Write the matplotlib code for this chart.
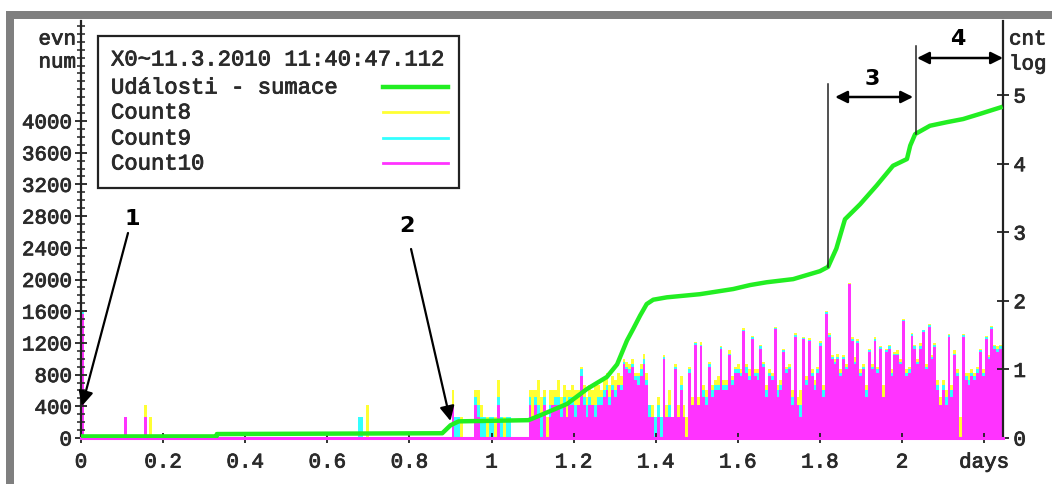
import numpy as np
import matplotlib
matplotlib.use("Agg")
import matplotlib.pyplot as plt
import matplotlib.patheffects as pe
from matplotlib.ticker import FixedLocator
from matplotlib.patches import Rectangle
from matplotlib.lines import Line2D

FONT = ["Liberation Mono", "DejaVu Sans Mono"]
plt.rcParams['font.family'] = FONT

# ---------------- data ----------------
# cumulative events ("Události - sumace"), left axis
green_x = [0, 0.33, 0.331, 0.88, 0.9, 0.92, 1.09, 1.125, 1.184, 1.233, 1.281,
           1.306, 1.33, 1.345, 1.362, 1.378, 1.394, 1.427, 1.508, 1.589, 1.63,
           1.67, 1.735, 1.8, 1.82, 1.84, 1.861, 1.898, 1.938, 1.978, 2.012,
           2.02, 2.032, 2.068, 2.109, 2.149, 2.19, 2.245]
green_y = [20, 20, 50, 60, 160, 210, 225, 300, 430, 620, 770, 930, 1230, 1375,
           1545, 1690, 1745, 1775, 1815, 1880, 1930, 1965, 2005, 2105, 2160,
           2390, 2760, 2950, 3185, 3435, 3520, 3690, 3835, 3940, 3985, 4025,
           4090, 4180]

bin_width = 1 / 144          # 10-minute bins (days)

# sparse early bins (bin index, counts)
early_bin = [0, 15, 22, 24, 97, 98, 100]
early_c10 = [65, 2, 2, 0, 0, 0, 0]
early_c9 = [3, 0, 0, 0, 2, 2, 0]
early_c8 = [3, 0, 1, 2, 0, 0, 3]

# continuous bins starting at bin index 129
main_start = 129
c10 = [0, 3, 0, 0, 0, 0, 0, 0, 0, 3, 2, 0, 0, 0, 0,
       0, 0, 3, 0, 0, 0, 0, 0, 0, 0, 0, 0, 0, 3, 2,
       3, 2, 0, 3, 0, 2, 3, 3, 3, 2, 3, 2, 3, 3, 2,
       3, 8, 3, 2, 3, 3, 2, 3, 3, 4, 5, 3, 5, 4, 6,
       5, 12, 10, 9, 11, 7, 6, 8, 12, 6, 2, 2, 0, 2, 0,
       14, 2, 2, 2, 10, 2, 5, 2, 0, 9, 3, 23, 3, 22, 4,
       3, 11, 4, 5, 5, 20, 5, 5, 16, 6, 9, 9, 8, 36, 9,
       7, 28, 8, 7, 20, 11, 4, 8, 7, 39, 4, 5, 18, 9, 10,
       3, 30, 3, 2, 28, 6, 26, 8, 5, 9, 22, 4, 65, 30, 14,
       12, 14, 8, 14, 10, 175, 26, 12, 24, 8, 10, 4, 18, 10, 26,
       9, 20, 4, 18, 20, 8, 16, 16, 12, 50, 8, 9, 31, 20, 12,
       20, 35, 10, 42, 14, 21, 5, 3, 5, 3, 30, 4, 16, 8, 0,
       30, 7, 6, 8, 7, 9, 18, 8, 28, 14, 39, 20, 18, 20, 5]
c9 = [0, 0, 2, 2, 0, 0, 0, 0, 0, 1, 1, 2, 2, 0, 2,
      2, 1, 1, 2, 0, 2, 2, 0, 0, 0, 0, 0, 0, 1, 0,
      1, 1, 2, 1, 0, 1, 0, 1, 1, 1, 1, 0, 1, 1, 1,
      0, 2, 1, 1, 1, 0, 1, 1, 1, 1, 1, 1, 1, 1, 0,
      1, 1, 1, 1, 1, 1, 2, 2, 2, 1, 1, 0, 2, 1, 2,
      1, 0, 1, 0, 1, 0, 1, 0, 0, 1, 0, 1, 0, 1, 1,
      1, 1, 1, 1, 1, 1, 1, 1, 1, 1, 1, 1, 1, 2, 2,
      1, 2, 1, 2, 2, 1, 1, 1, 1, 1, 1, 1, 1, 1, 1,
      1, 2, 0, 1, 1, 1, 1, 1, 1, 1, 2, 1, 3, 2, 1,
      1, 1, 1, 1, 1, 3, 2, 1, 2, 1, 1, 1, 1, 1, 2,
      1, 1, 0, 1, 2, 1, 1, 1, 1, 2, 1, 1, 2, 2, 1,
      2, 2, 1, 2, 1, 2, 1, 0, 1, 1, 2, 1, 1, 1, 0,
      2, 1, 1, 1, 1, 1, 1, 1, 2, 1, 2, 2, 2, 2, 1]
c8 = [0, 2, 0, 0, 2, 0, 0, 0, 0, 1, 2, 1, 0, 2, 0,
      0, 1, 3, 0, 2, 0, 0, 0, 0, 0, 0, 0, 0, 1, 3,
      1, 4, 2, 1, 2, 2, 2, 1, 3, 1, 2, 3, 1, 2, 2,
      2, 1, 2, 1, 2, 2, 3, 2, 1, 2, 3, 2, 2, 2, 3,
      2, 1, 2, 2, 2, 1, 1, 2, 3, 2, 0, 1, 0, 1, 0,
      1, 1, 2, 0, 1, 1, 2, 1, 2, 1, 1, 1, 1, 2, 1,
      1, 1, 1, 1, 2, 1, 1, 1, 2, 1, 1, 2, 1, 2, 1,
      2, 1, 1, 1, 1, 1, 1, 1, 1, 2, 1, 1, 1, 1, 1,
      1, 2, 1, 2, 1, 1, 2, 1, 1, 1, 2, 1, 3, 2, 1,
      1, 2, 1, 1, 1, 3, 2, 2, 2, 1, 1, 1, 1, 1, 2,
      1, 1, 2, 1, 1, 1, 1, 2, 1, 2, 1, 1, 1, 1, 1,
      2, 1, 1, 2, 1, 1, 1, 1, 1, 1, 1, 1, 2, 1, 2,
      1, 1, 2, 1, 1, 1, 1, 1, 1, 1, 2, 1, 2, 1, 2]

legend_title = "X0~11.3.2010 11:40:47.112"
series_names = ["Události - sumace", "Count8", "Count9", "Count10"]
series_colors = ["#22ee22", "#ffff33", "#33ffff", "#ff33ff"]

left_ticks = list(range(0, 4001, 400))
right_ticks = [0, 1, 2, 3, 4, 5]
x_ticks = [0, 0.2, 0.4, 0.6, 0.8, 1.0, 1.2, 1.4, 1.6, 1.8, 2.0, 2.2]
x_tick_labels = ["0", "0.2", "0.4", "0.6", "0.8", "1", "1.2", "1.4", "1.6",
                 "1.8", "2", "days"]

# ---------------- figure ----------------
W, H = 1052, 485
fig = plt.figure(figsize=(W / 100, H / 100), dpi=100)
fig.patch.set_facecolor("white")


def fx(px):
    return px / W


def fy(py):
    return 1 - py / H


tick_color = "#2a2a2a"
thick = [pe.withStroke(linewidth=0.6, foreground=tick_color)]
fs = 15
fs_leg = 16

# gray frame
fig.add_artist(Rectangle((fx(6), fy(20)), fx(1052) - fx(6), fy(12) - fy(20),
                         transform=fig.transFigure, color="#7f7f7f", lw=0))
fig.add_artist(Rectangle((fx(6), fy(485)), fx(14) - fx(6), fy(12) - fy(485),
                         transform=fig.transFigure, color="#7f7f7f", lw=0))

L, R, T, B = 81, 1003, 22, 439
ax2 = fig.add_axes([fx(L), fy(B), fx(R) - fx(L), fy(T) - fy(B)])
ax = ax2.twinx()
ax.set_zorder(ax2.get_zorder() + 1)
ax.patch.set_visible(False)
ax.xaxis.set_visible(True)
ax.yaxis.tick_left()
ax2.yaxis.tick_right()

# bars (log10 of stacked counts, right axis)
bins = np.concatenate([np.array(early_bin), main_start + np.arange(len(c10))])
n10 = np.concatenate([early_c10, c10]).astype(float)
n9 = np.concatenate([early_c9, c9]).astype(float)
n8 = np.concatenate([early_c8, c8]).astype(float)
h10 = np.log10(np.maximum(n10, 1))
h9 = np.log10(np.maximum(n10 + n9, 1))
h8 = np.log10(np.maximum(n10 + n9 + n8, 1))
xb = bins * bin_width
ax2.bar(xb, h8, width=bin_width, align="edge", color=series_colors[1], lw=0)
ax2.bar(xb, h9, width=bin_width, align="edge", color=series_colors[2], lw=0)
ax2.bar(xb, h10, width=bin_width, align="edge", color=series_colors[3], lw=0)

# green cumulative line (left axis)
ax.plot(green_x, green_y, color=series_colors[0], lw=3.2, solid_capstyle="butt",
        zorder=5)

ax.set_xlim(0, 2.246)
ax2.set_xlim(0, 2.246)
ax.set_ylim(0, 5262)
ax2.set_ylim(0, 6.08)

for a in (ax, ax2):
    a.spines["top"].set_visible(False)
ax.spines["right"].set_visible(False)
ax2.spines["left"].set_visible(False)
ax.spines["left"].set_color("#222222")
ax.spines["left"].set_linewidth(1.6)
ax2.spines["right"].set_color("#222222")
ax2.spines["right"].set_linewidth(1.6)
ax.spines["bottom"].set_color(series_colors[3])
ax.spines["bottom"].set_linewidth(2.2)
ax2.spines["bottom"].set_visible(False)

ax.yaxis.set_major_locator(FixedLocator(left_ticks))
ax.yaxis.set_minor_locator(FixedLocator(list(range(0, 5201, 100))))
ax.tick_params(axis="y", which="major", direction="inout", length=9, width=1.3,
               color="#222222", labelsize=fs, labelcolor=tick_color, pad=2)
ax.tick_params(axis="y", which="minor", direction="inout", length=6, width=1.1,
               color="#222222")

ax2.yaxis.set_major_locator(FixedLocator(right_ticks))
ax2.tick_params(axis="y", which="major", direction="inout", length=9, width=1.3,
                color="#222222", labelsize=fs, labelcolor=tick_color, pad=3)

ax.set_xticks(x_ticks)
ax.set_xticklabels(x_tick_labels)
ax.tick_params(axis="x", direction="inout", length=7, width=1.3, color="#222222",
               labelsize=fs, labelcolor=tick_color, pad=7)
ax2.tick_params(axis="x", bottom=False, labelbottom=False)

for lab in (ax.get_xticklabels() + ax.get_yticklabels()
            + ax2.get_yticklabels()):
    lab.set_path_effects(thick)

# axis captions
for txt, py in (("evn", 40), ("num", 63)):
    fig.text(fx(76), fy(py), txt, ha="right", va="center", fontsize=fs,
             color=tick_color, path_effects=thick)
for txt, py in (("cnt", 40), ("log", 65)):
    fig.text(fx(1009), fy(py), txt, ha="left", va="center", fontsize=fs,
             color=tick_color, path_effects=thick)

# legend box (drawn manually)
fig.add_artist(Rectangle((fx(98), fy(189)), fx(459) - fx(98), fy(37) - fy(189),
                         transform=fig.transFigure, fill=False, ec="#222222",
                         lw=1.6))
fig.text(fx(111), fy(61), legend_title, ha="left", va="center", fontsize=fs_leg,
         color=tick_color, path_effects=thick)
rows = [89, 114, 140, 165]
lws = [3.2, 2, 2, 2]
for name, col, py, lw in zip(series_names, series_colors, rows, lws):
    fig.text(fx(111), fy(py), name, ha="left", va="center", fontsize=fs_leg,
             color=tick_color, path_effects=thick)
    fig.add_artist(Line2D([fx(383), fx(448)], [fy(py - 1), fy(py - 1)],
                          transform=fig.transFigure, color=col, lw=lw))

# annotations (data coordinates of left axis)
ann_font = dict(family=["DejaVu Sans"], weight="bold", size=16, color="black")
ax.annotate("", xy=(0.0024, 404), xytext=(0.1145, 2587),
            arrowprops=dict(arrowstyle="-|>", lw=1.6, color="black",
                            mutation_scale=22, shrinkA=0, shrinkB=0),
            annotation_clip=False)
ax.text(0.124, 2776, "1", ha="center", va="center", **ann_font)
ax.annotate("", xy=(0.900, 215), xytext=(0.804, 2385),
            arrowprops=dict(arrowstyle="-|>", lw=1.6, color="black",
                            mutation_scale=22, shrinkA=0, shrinkB=0),
            annotation_clip=False)
ax.text(0.794, 2688, "2", ha="center", va="center", **ann_font)

ax.plot([1.8197, 1.8197], [2158, 4467], color="#222222", lw=1.1, zorder=6)
ax.plot([2.034, 2.034], [3836, 4946], color="#222222", lw=1.1, zorder=6)
ax.annotate("", xy=(1.837, 4303), xytext=(2.027, 4303),
            arrowprops=dict(arrowstyle="<|-|>", lw=1.8, color="black",
                            mutation_scale=18, shrinkA=0, shrinkB=0),
            annotation_clip=False)
ax.text(1.927, 4543, "3", ha="center", va="center", **ann_font)
ax.annotate("", xy=(2.0365, 4795), xytext=(2.246, 4795),
            arrowprops=dict(arrowstyle="<|-|>", lw=1.8, color="black",
                            mutation_scale=18, shrinkA=0, shrinkB=0),
            annotation_clip=False)
ax.text(2.136, 5047, "4", ha="center", va="center", clip_on=False, **ann_font)

fig.savefig("out.png", dpi=100)
